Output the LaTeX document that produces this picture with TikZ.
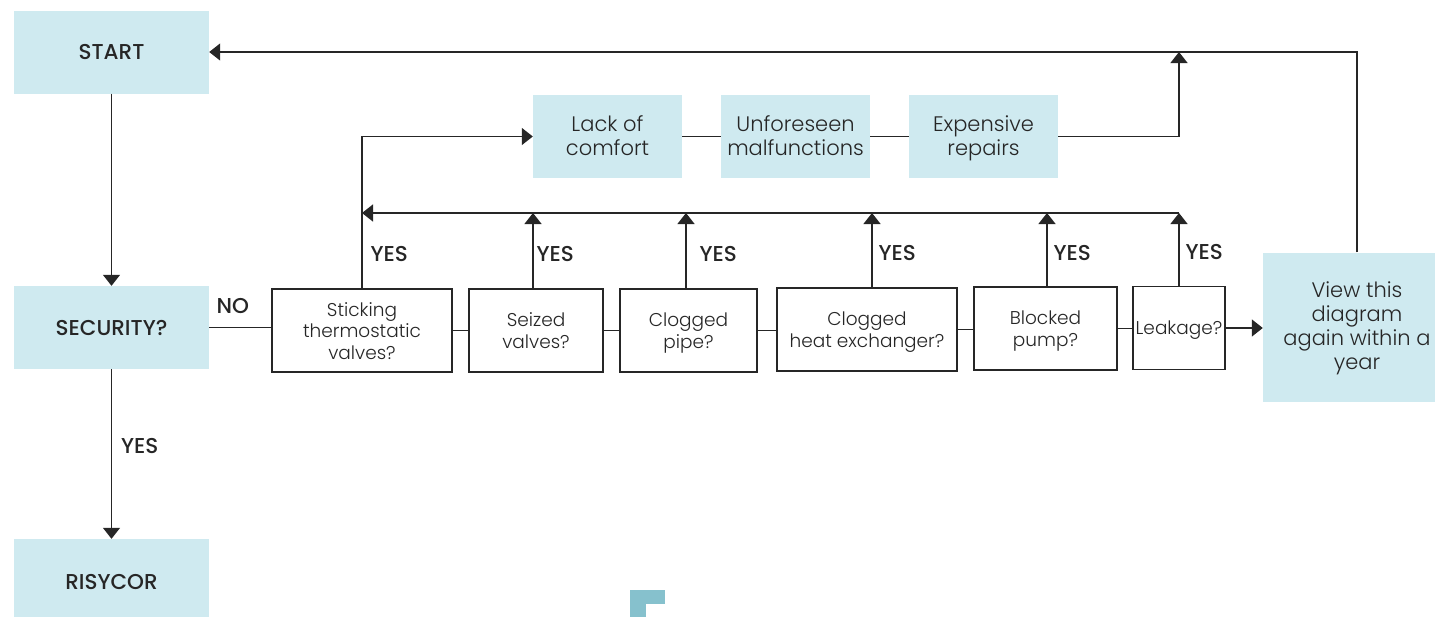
\documentclass[tikz,border=0pt]{standalone}
\usepackage{fontspec}
\setmainfont{Poppins}[UprightFont=* Light, BoldFont=* Medium]
\usetikzlibrary{arrows.meta,calc}
\definecolor{boxfill}{HTML}{CFEAF0}
\definecolor{ink}{HTML}{262626}
\definecolor{logoteal}{HTML}{86C1CD}
\newcommand\tstrut{\rule{0pt}{18.5pt}}
\newcommand\bstrut{\rule[-4pt]{0pt}{4pt}}
\tikzset{
  soft/.style={fill=boxfill, draw=none, text=ink, align=center, inner sep=0pt, minimum height=83pt},
  capsbox/.style={soft, minimum width=195pt, font=\fontsize{21.5}{24}\selectfont\bfseries},
  bigbox/.style={soft, minimum width=149pt, font=\fontsize{21}{24}\selectfont},
  qbox/.style={draw=ink, line width=1.2pt, fill=white, text=ink, align=center, inner sep=0pt, minimum height=83pt, font=\fontsize{18.5}{21.7}\selectfont},
  conn/.style={draw=ink, line width=1.3pt},
  arr/.style={conn, -{Triangle[length=11pt,width=17pt]}},
  lbl/.style={text=ink, inner sep=0pt, font=\fontsize{21.5}{24}\selectfont\bfseries}
}
\begin{document}
\begin{tikzpicture}[x=1pt,y=-1pt]
\useasboundingbox (0,0) rectangle (1435,616);
% left column
\node[capsbox] (start) at (111.5,52) {START};
\node[capsbox] (security) at (111.5,327.5) {SECURITY?};
\node[capsbox, minimum height=85pt] (risycor) at (111.5,581.5) {RISYCOR};
% top row
\node[bigbox] (lack) at (607.5,136.5) {\tstrut Lack of\\comfort\bstrut};
\node[bigbox] (unforeseen) at (795.5,136.5) {\tstrut Unforeseen\\malfunctions\bstrut};
\node[bigbox] (expensive) at (983.5,136.5) {\tstrut Expensive\\repairs\bstrut};
% question boxes
\node[qbox, minimum width=180pt] (stick) at (362,330.5) {\tstrut Sticking\\thermostatic\\valves?\bstrut};
\node[qbox, minimum width=134pt] (seized) at (536,330.5) {\tstrut Seized\\valves?\bstrut};
\node[qbox, minimum width=137pt] (pipe) at (688.5,330.5) {\tstrut Clogged\\pipe?\bstrut};
\node[qbox, minimum width=180pt] (hex) at (867,329.5) {\tstrut Clogged\\heat exchanger?\bstrut};
\node[qbox, minimum width=143pt] (pump) at (1045.5,328.5) {\tstrut Blocked\\pump?\bstrut};
\node[qbox, minimum width=92pt] (leak) at (1179,328) {\tstrut Leakage?\bstrut};
\node[soft, minimum width=188pt, minimum height=149pt, font=\fontsize{21}{24}\selectfont] (view) at (1357,327) {\tstrut View this\\diagram\\again within a\\year\bstrut};
% helper coordinates
\coordinate (busY) at (0,213);
\coordinate (topJ) at (1179,52);
% connectors
\draw[arr] (start) -- (security);
\draw[arr] (security) -- node[lbl, pos=0.45, anchor=west, xshift=9pt] {YES} (risycor);
\draw[conn] (security.east) -- node[lbl, pos=0.38, anchor=base, yshift=14pt] {NO} (security.east -| stick.west);
\draw[conn] (stick.east) -- (stick.east -| seized.west);
\draw[conn] (seized.east) -- (seized.east -| pipe.west);
\draw[conn] (pipe.east) -- (pipe.east -| hex.west);
\draw[conn] (hex.east) -- (hex.east -| pump.west);
\draw[conn] (pump.east) -- (pump.east -| leak.west);
\draw[arr] (leak.east) -- (leak.east -| view.west);
\draw[arr] (stick.north) |- node[lbl, pos=0.114, anchor=west, xshift=8pt] {YES} (lack.west);
\draw[arr] (leak.north |- busY) -- (stick.north |- busY);
\draw[arr] ([xshift=-3pt]seized.north) -- node[lbl, pos=0.46, anchor=west, xshift=3pt] {YES} ([xshift=-3pt]seized.north |- busY);
\draw[arr] ([xshift=-2.5pt]pipe.north) -- node[lbl, pos=0.46, anchor=west, xshift=13pt] {YES} ([xshift=-2.5pt]pipe.north |- busY);
\draw[arr] ([xshift=5pt]hex.north) -- node[lbl, pos=0.46, anchor=west, xshift=6pt] {YES} ([xshift=5pt]hex.north |- busY);
\draw[arr] ([xshift=1.5pt]pump.north) -- node[lbl, pos=0.46, anchor=west, xshift=6pt] {YES} ([xshift=1.5pt]pump.north |- busY);
\draw[arr] (leak.north) -- node[lbl, pos=0.46, anchor=west, xshift=6pt] {YES} (leak.north |- busY);
\draw[conn] (lack) -- (unforeseen);
\draw[conn] (unforeseen) -- (expensive);
\draw[arr] (expensive.east) -| (topJ);
\draw[arr] (view.north) |- (start.east);
% logo fragment
\fill[logoteal] (630,590) rectangle (665,604);
\fill[logoteal] (630,604) rectangle (646,620);
\end{tikzpicture}
\end{document}
